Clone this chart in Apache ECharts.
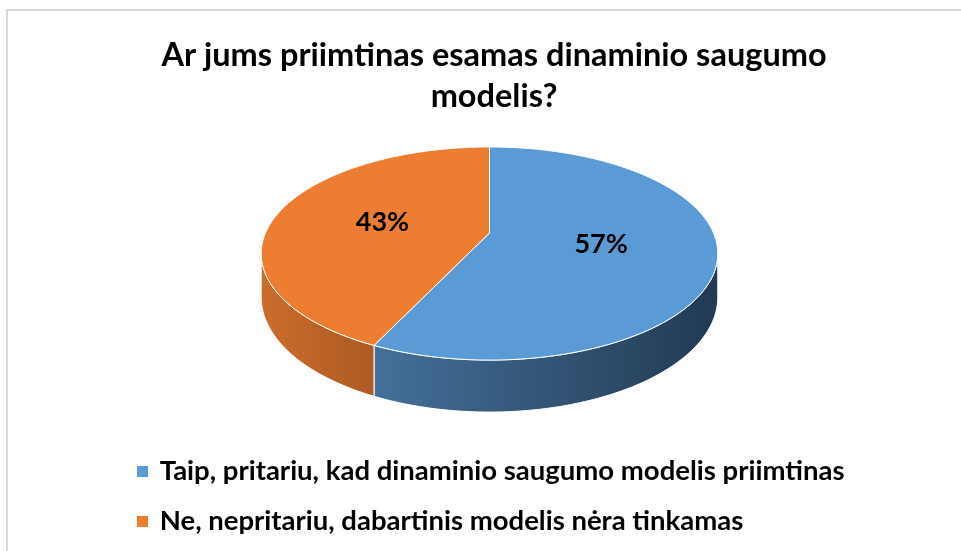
<!DOCTYPE html>
<html>
<head>
<meta charset="utf-8">
<script src="https://cdn.jsdelivr.net/npm/echarts@6/dist/echarts.min.js"></script>
<style>
  html, body { margin: 0; background: #fff; }
  #chart { width: 961px; height: 551px; }
</style>
</head>
<body>
<div id="chart"></div>
<script>
const titleText = 'Ar jums priimtinas esamas dinaminio saugumo\nmodelis?'
const categories = [
  'Taip, pritariu, kad dinaminio saugumo modelis priimtinas',
  'Ne, nepritariu, dabartinis modelis nėra tinkamas'
]
const values = [57, 43]
const topColors = ['#5b9bd5', '#ed7d31']
const sideColors = [['#44709a', '#223a52'], ['#cb6c2c', '#ad5b23']]

// excel style 3d pie, faked with a perspective projection of a tilted disc
const cx = 489.5, cy = 233, rx = 224, ry = 102.6, persp = 0.1925, depth = 42
const total = values.reduce((a, b) => a + b, 0)
const sideFrom = Math.acos(-persp), sideTo = 2 * Math.PI - Math.acos(-persp)

function project(theta, r, down) {
  const u = Math.sin(theta) * r, w = Math.cos(theta) * r
  const s = 1 / (1 + persp * w)
  return [cx + rx * u * s, cy - ry * w * s + (down ? depth * s : 0)]
}

function arc(a, b, down) {
  const pts = []
  const n = Math.max(2, Math.ceil((b - a) / (Math.PI / 180)))
  for (let i = 0; i <= n; i++) pts.push(project(a + (b - a) * i / n, 1, down))
  return pts
}

function renderSlice(idx) {
  return function (params, api) {
    const before = values.slice(0, idx).reduce((a, b) => a + b, 0)
    const start = before / total * 2 * Math.PI
    const end = start + api.value(0) / total * 2 * Math.PI
    const children = []

    // side wall (only the front part is visible)
    const a = Math.max(start, sideFrom), b = Math.min(end, sideTo)
    if (b > a) {
      const topArc = arc(a, b, false)
      const botArc = arc(a, b, true).reverse()
      const x0 = topArc.reduce((m, p) => Math.min(m, p[0]), 9999)
      const x1 = topArc.reduce((m, p) => Math.max(m, p[0]), 0)
      children.push({
        type: 'polygon',
        shape: { points: topArc.concat(botArc) },
        style: {
          fill: new echarts.graphic.LinearGradient(x0, 0, x1, 0, [
            { offset: 0, color: sideColors[idx][0] },
            { offset: 1, color: sideColors[idx][1] }
          ], true),
          stroke: '#ffffff',
          lineWidth: 1
        }
      })
    }

    // top face
    children.push({
      type: 'polygon',
      shape: { points: [[cx, cy]].concat(arc(start, end, false)) },
      style: { fill: topColors[idx], stroke: '#ffffff', lineWidth: 1 }
    })

    // percentage label
    const mid = (start + end) / 2
    const lp = project(mid, 0.5, false)
    children.push({
      type: 'text',
      x: lp[0], y: lp[1],
      z2: 10,
      style: {
        text: Math.round(api.value(0) / total * 100) + '%',
        align: 'center', verticalAlign: 'middle',
        font: 'bold 27px Lato',
        fill: '#000000'
      }
    })
    return { type: 'group', children: children }
  }
}

const chart = echarts.init(document.getElementById('chart'))
chart.setOption({
  animation: false,
  title: {
    text: titleText,
    left: 489,
    textAlign: 'center',
    top: 30,
    textStyle: { fontFamily: 'Lato', fontWeight: 'bold', fontSize: 32.5, lineHeight: 41, color: '#000000' }
  },
  legend: {
    data: categories,
    orient: 'vertical',
    left: 132,
    top: 451.5,
    itemWidth: 11,
    itemHeight: 11,
    itemGap: 20,
    icon: 'rect',
    formatter: name => ' ' + name,
    textStyle: { fontFamily: 'Lato', fontWeight: 'bold', fontSize: 27.5, lineHeight: 30, color: '#000000' }
  },
  graphic: [{
    type: 'rect',
    shape: { x: 7, y: 10, width: 1000, height: 600 },
    style: { fill: 'none', stroke: '#d9d9d9', lineWidth: 2 },
    silent: true
  }],
  series: categories.map((name, i) => ({
    type: 'custom',
    name: name,
    coordinateSystem: 'none',
    silent: true,
    itemStyle: { color: topColors[i] },
    data: [values[i]],
    renderItem: renderSlice(i)
  }))
})
</script>
</body>
</html>
